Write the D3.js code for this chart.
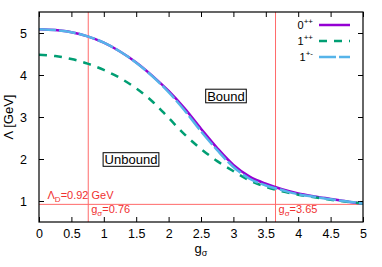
<!DOCTYPE html>
<html lang="en">
<head>
  <meta charset="UTF-8" />
  <title>Lambda vs g_sigma</title>
  <style>
    body { margin: 0; background: #fff; }
    text { font-family: "Liberation Sans", Arial, sans-serif; }
    .red { fill: #f03030; }
  </style>
</head>
<body>
  <script src="https://cdn.jsdelivr.net/npm/d3@7"></script>
  <script>
    // values
    const gSigma = [0, 0.25, 0.5, 0.75, 1, 1.25, 1.5, 1.75, 2, 2.25, 2.5, 2.75, 3, 3.25, 3.5, 3.75, 4, 4.25, 4.5, 4.75, 5];
    const lam0pp = [5.09, 5.07, 5.02, 4.92, 4.77, 4.56, 4.30, 3.98, 3.62, 3.20, 2.72, 2.26, 1.86, 1.58, 1.41, 1.28, 1.18, 1.11, 1.05, 0.99, 0.94];
    const lam1pp = [4.48, 4.45, 4.38, 4.27, 4.12, 3.93, 3.68, 3.37, 2.98, 2.58, 2.24, 1.95, 1.71, 1.49, 1.34, 1.23, 1.15, 1.09, 1.03, 0.98, 0.94];
    const lam1pm = [5.09, 5.07, 5.02, 4.92, 4.77, 4.56, 4.29, 3.97, 3.59, 3.15, 2.66, 2.21, 1.81, 1.53, 1.37, 1.26, 1.16, 1.10, 1.04, 0.99, 0.94];
    const xTicks = [0, 0.5, 1, 1.5, 2, 2.5, 3, 3.5, 4, 4.5, 5];
    const yTicks = [1, 2, 3, 4, 5];
    const lambdaD = 0.92;
    const gLow = 0.76, gHigh = 3.65;

    const width = 382, height = 267;
    const margin = { left: 39, right: 19, top: 12, bottom: 45 };

    const svg = d3.select("body").append("svg")
      .attr("width", width)
      .attr("height", height);

    const x = d3.scaleLinear().domain([0, 5]).range([margin.left, width - margin.right]);
    const y = d3.scaleLinear().domain([0.5, 5.5]).range([height - margin.bottom, margin.top]);

    svg.append("clipPath").attr("id", "plotclip")
      .append("rect")
      .attr("x", x(0)).attr("y", y(5.5))
      .attr("width", x(5) - x(0)).attr("height", y(0.5) - y(5.5));

    // axes, gnuplot style ticks inward on all four sides
    const tickIn = -5;
    svg.append("g")
      .attr("transform", `translate(0,${y(0.5)})`)
      .call(d3.axisBottom(x).tickValues(xTicks).tickSize(tickIn).tickPadding(7).tickFormat(d3.format("")))
      .call(g => g.select(".domain").remove());
    svg.append("g")
      .attr("transform", `translate(0,${y(5.5)})`)
      .call(d3.axisTop(x).tickValues(xTicks).tickSize(tickIn).tickFormat(""))
      .call(g => g.select(".domain").remove());
    svg.append("g")
      .attr("transform", `translate(${x(0)},0)`)
      .call(d3.axisLeft(y).tickValues(yTicks).tickSize(tickIn).tickPadding(12).tickFormat(d3.format("d")))
      .call(g => g.select(".domain").remove());
    svg.append("g")
      .attr("transform", `translate(${x(5)},0)`)
      .call(d3.axisRight(y).tickValues(yTicks).tickSize(tickIn).tickFormat(""))
      .call(g => g.select(".domain").remove());

    svg.selectAll(".tick text").attr("font-size", 12.5).attr("fill", "#000");
    svg.selectAll(".tick line").attr("stroke", "#000");

    // red reference lines
    const ref = svg.append("g").attr("stroke", "#ff6a6a").attr("stroke-width", 1);
    ref.append("line").attr("x1", x(0)).attr("x2", x(5)).attr("y1", y(lambdaD)).attr("y2", y(lambdaD));
    ref.append("line").attr("x1", x(gLow)).attr("x2", x(gLow)).attr("y1", y(0.5)).attr("y2", y(5.5));
    ref.append("line").attr("x1", x(gHigh)).attr("x2", x(gHigh)).attr("y1", y(0.5)).attr("y2", y(5.5));

    // curves
    const series = [
      { name: "0", sup: "++", vals: lam0pp, color: "#9400d3", dash: null },
      { name: "1", sup: "++", vals: lam1pp, color: "#009e73", dash: "8,7" },
      { name: "1", sup: "+-", vals: lam1pm, color: "#56b4e9", dash: "17,3" }
    ];
    const line = d3.line()
      .x((d, i) => x(gSigma[i]))
      .y(d => y(d))
      .curve(d3.curveCatmullRom);

    const curves = svg.append("g").attr("clip-path", "url(#plotclip)");
    curves.selectAll("path")
      .data(series)
      .enter()
      .append("path")
      .attr("d", d => line(d.vals))
      .attr("fill", "none")
      .attr("stroke", d => d.color)
      .attr("stroke-width", 2.5)
      .attr("stroke-dasharray", d => d.dash);

    // frame
    svg.append("rect")
      .attr("x", x(0)).attr("y", y(5.5))
      .attr("width", x(5) - x(0)).attr("height", y(0.5) - y(5.5))
      .attr("fill", "none").attr("stroke", "#000").attr("stroke-width", 1.2);

    // legend
    const leg = svg.append("g");
    series.forEach((s, i) => {
      const ly = 25 + i * 16;
      const t = leg.append("text")
        .attr("x", 313).attr("y", ly + 4)
        .attr("text-anchor", "end")
        .attr("font-size", 11);
      t.append("tspan").text(s.name);
      t.append("tspan").attr("font-size", 8).attr("dy", -5).text(s.sup);
      leg.append("line")
        .attr("x1", 319).attr("x2", 350).attr("y1", ly).attr("y2", ly)
        .attr("stroke", s.color).attr("stroke-width", 2.5)
        .attr("stroke-dasharray", s.dash);
    });

    // boxed labels
    function boxLabel(txt, cx, cy) {
      const g = svg.append("g");
      const r = g.append("rect");
      const t = g.append("text")
        .attr("x", cx).attr("y", cy + 4.5)
        .attr("text-anchor", "middle")
        .attr("font-size", 13)
        .text(txt);
      const bb = t.node().getBBox();
      r.attr("x", bb.x - 1.5).attr("y", cy - 6.8)
        .attr("width", bb.width + 3).attr("height", 13.6)
        .attr("fill", "#fff").attr("stroke", "#000").attr("stroke-width", 1);
    }
    boxLabel("Bound", 226, 96);
    boxLabel("Unbound", 131, 159.5);

    // red annotations
    const a1 = svg.append("text").attr("class", "red").attr("x", 47.5).attr("y", 199).attr("font-size", 11);
    a1.append("tspan").text("\u039B");
    a1.append("tspan").attr("font-size", 8).attr("dy", 3).text("D");
    a1.append("tspan").attr("dy", -3).text("=0.92 GeV");

    [[gLow, "0.76"], [gHigh, "3.65"]].forEach(([g, v]) => {
      const t = svg.append("text").attr("class", "red").attr("x", x(g) + 3).attr("y", 213).attr("font-size", 11);
      t.append("tspan").text("g");
      t.append("tspan").attr("font-size", 8).attr("dy", 3).text("\u03C3");
      t.append("tspan").attr("dy", -3).text("=" + v);
    });

    // axis titles
    const xl = svg.append("text")
      .attr("x", x(2.5)).attr("y", 253)
      .attr("text-anchor", "middle").attr("font-size", 13);
    xl.append("tspan").text("g");
    xl.append("tspan").attr("font-size", 9).attr("dy", 3).text("\u03C3");

    svg.append("text")
      .attr("transform", `translate(13,${y(3)}) rotate(-90)`)
      .attr("text-anchor", "middle").attr("font-size", 13)
      .text("\u039B [GeV]");
  </script>
</body>
</html>
